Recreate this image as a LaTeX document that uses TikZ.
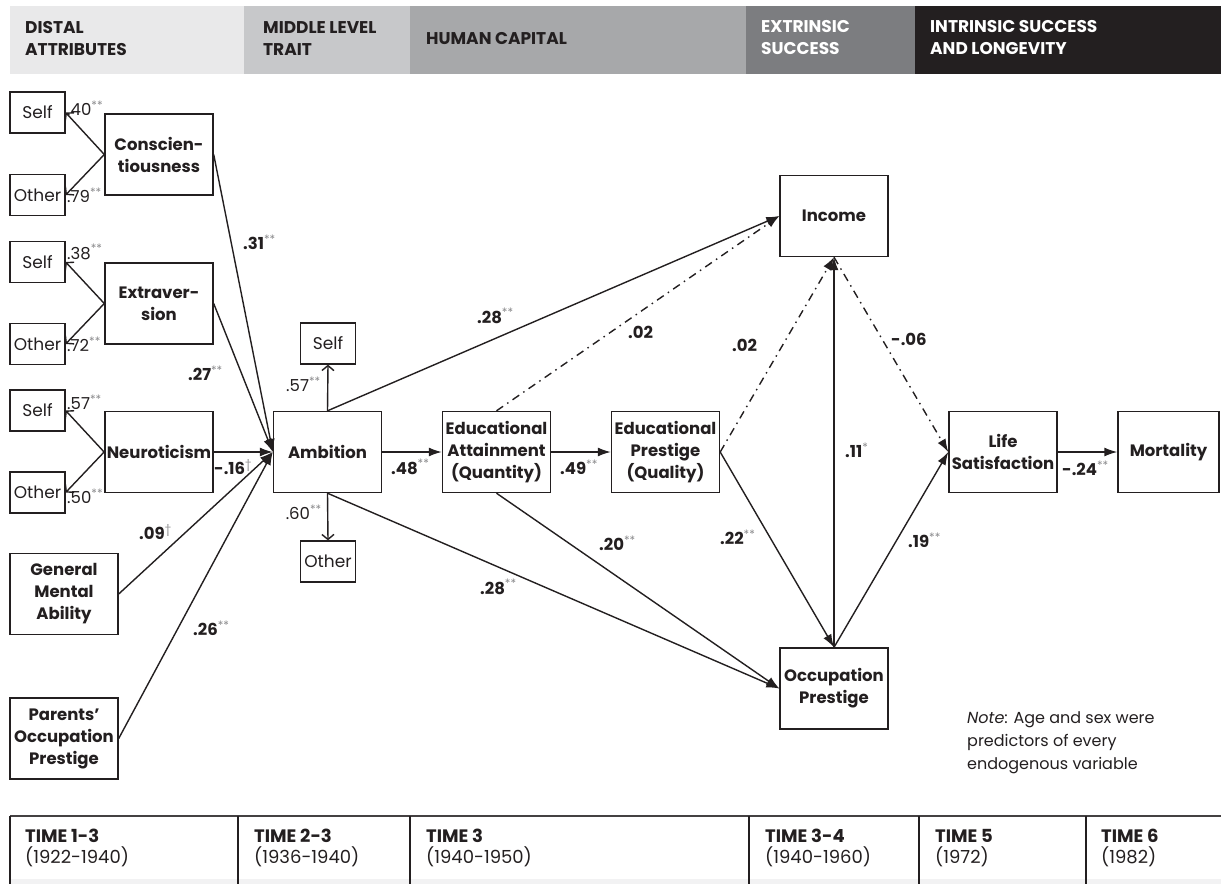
\documentclass[tikz,border=0pt]{standalone}
\usepackage{fontspec}
\setmainfont{Poppins}
\usetikzlibrary{arrows.meta}
\definecolor{ink}{HTML}{231F20}
\definecolor{bandA}{HTML}{E9E9EA}
\definecolor{bandB}{HTML}{C7C8CA}
\definecolor{bandC}{HTML}{A7A8AA}
\definecolor{bandD}{HTML}{7C7D80}
\definecolor{bandE}{HTML}{231F20}
\definecolor{sigcol}{HTML}{8A8A8C}
\newcommand\sig[1]{\textsuperscript{\mdseries\color{sigcol}#1}}
\begin{document}
\begin{tikzpicture}[x=1pt,y=-1pt,
  box/.style={draw=ink, line width=1.4pt, minimum width=108pt, minimum height=81pt,
    align=center, font=\fontsize{16.5}{22}\selectfont\bfseries, text=ink, inner sep=2pt},
  smallbox/.style={draw=ink, line width=1.3pt, minimum width=55pt, minimum height=41pt,
    inner sep=1pt, font=\fontsize{17}{20}\selectfont, text=ink},
  pth/.style={draw=ink, line width=1.4pt, -{Latex[length=13pt,width=9pt]}},
  ind/.style={draw=ink, line width=1.4pt, -{Straight Barb[length=5pt,width=12pt,line width=1.4pt]}},
  dd/.style={pth, dash pattern=on 8pt off 5pt on 1.5pt off 5pt},
  lab/.style={anchor=west, inner sep=0pt, font=\fontsize{16.5}{20}\selectfont\bfseries, text=ink},
  load/.style={anchor=west, inner sep=0pt, font=\fontsize{16.5}{18}\selectfont, text=ink},
  head/.style={anchor=north west, inner sep=0pt, align=left, font=\fontsize{17}{22}\selectfont\bfseries},
  timetxt/.style={anchor=north west, inner sep=0pt, align=left, font=\fontsize{18}{21}\selectfont, text=ink}
]
\fill[white] (0,0) rectangle (1221,884);
\useasboundingbox (0,0) rectangle (1221,884);

% header band
\fill[bandA] (10,6) rectangle (244,74);
\fill[bandB] (244,6) rectangle (410,74);
\fill[bandC] (410,6) rectangle (746,74);
\fill[bandD] (746,6) rectangle (915,74);
\fill[bandE] (915,6) rectangle (1221,74);
\node[head, text=ink] (hA) at (25,21) {DISTAL\\ATTRIBUTES};
\node[head, text=ink] (hB) at (263,21) {MIDDLE LEVEL\\TRAIT};
\node[head, text=ink] (hC) at (426,32) {HUMAN CAPITAL};
\node[head, text=white] (hD) at (761,20) {EXTRINSIC\\SUCCESS};
\node[head, text=white] (hE) at (930,20) {INTRINSIC SUCCESS\\AND LONGEVITY};

% indicator boxes
\node[smallbox] (s1) at (37.5,112.5) {Self};
\node[smallbox] (o1) at (37.5,195) {Other};
\node[smallbox] (s2) at (37.5,262) {Self};
\node[smallbox] (o2) at (37.5,344) {Other};
\node[smallbox] (s3) at (37.5,410.5) {Self};
\node[smallbox] (o3) at (37.5,492.5) {Other};
\node[smallbox] (as) at (328,343.5) {Self};
\node[smallbox] (ao) at (328,561.5) {Other};

% main boxes
\node[box] (consc) at (159,154.5) {Conscien-\\tiousness};
\node[box] (extra) at (159,303.5) {Extraver-\\sion};
\node[box] (neuro) at (159,452) {Neuroticism};
\node[box] (gma) at (64,594) {General\\Mental\\Ability};
\node[box] (par) at (64,738.5) {Parents’\\Occupation\\Prestige};
\node[box] (amb) at (327.5,452) {Ambition};
\node[box] (edq) at (496.5,452) {Educational\\Attainment\\(Quantity)};
\node[box] (edp) at (665.5,452) {Educational\\Prestige\\(Quality)};
\node[box] (inc) at (834,216) {Income};
\node[box] (occ) at (834,688.5) {Occupation\\Prestige};
\node[box] (life) at (1003,452) {Life\\Satisfaction};
\node[box, minimum width=101pt] (mort) at (1168.5,452) {Mortality};

% indicator arrows
\draw[ind] (consc.west) -- (s1.east);
\draw[ind] (consc.west) -- (o1.east);
\draw[ind] (extra.west) -- (s2.east);
\draw[ind] (extra.west) -- (o2.east);
\draw[ind] (neuro.west) -- (s3.east);
\draw[ind] (neuro.west) -- (o3.east);
\draw[ind] (amb.north) -- (as.south);
\draw[ind] (amb.south) -- (ao.north);

% structural paths
\draw[pth] (consc.east) -- (amb.west);
\draw[pth] (extra.east) -- (amb.west);
\draw[pth] (neuro.east) -- (amb.west);
\draw[pth] (gma.east) -- (amb.west);
\draw[pth] (par.east) -- (amb.west);
\draw[pth] (amb.east) -- (edq.west);
\draw[pth] (edq.east) -- (edp.west);
\draw[pth] (amb.north) -- (inc.west);
\draw[dd] (edq.north) -- (inc.west);
\draw[pth] (amb.south) -- (occ.west);
\draw[pth] (edq.south) -- (occ.west);
\draw[dd] (edp.east) -- (inc.south);
\draw[pth] (edp.east) -- (occ.north);
\draw[pth] (occ.north) -- (inc.south);
\draw[dd] (inc.south) -- (life.west);
\draw[pth] (occ.north) -- (life.west);
\draw[pth] (life.east) -- (mort.west);

% loadings
\node[load] (l1) at (67,108) {.40\sig{**}};
\node[load] (l2) at (67,195) {.79\sig{**}};
\node[load] (l3) at (67,252) {.38\sig{**}};
\node[load] (l4) at (67,344) {.72\sig{**}};
\node[load] (l5) at (67,402) {.57\sig{**}};
\node[load] (l6) at (67,496) {.50\sig{**}};
\node[load, anchor=east] (l7) at (321,384) {.57\sig{**}};
\node[load, anchor=east] (l8) at (322,512) {.60\sig{**}};

% path coefficients
\node[lab] (c1) at (243,242) {.31\sig{**}};
\node[lab] (c2) at (188,373) {.27\sig{**}};
\node[lab] (c3) at (214,467) {-.16\sig{\textdagger}};
\node[lab] (c4) at (139,532) {.09\sig{\textdagger}};
\node[lab] (c5) at (193,628) {.26\sig{**}};
\node[lab] (c6) at (477,316) {.28\sig{**}};
\node[lab] (c7) at (628,332) {.02};
\node[lab] (c8) at (391,467) {.48\sig{**}};
\node[lab] (c9) at (560,467) {.49\sig{**}};
\node[lab] (c10) at (480,587) {.28\sig{**}};
\node[lab] (c11) at (599,543) {.20\sig{**}};
\node[lab] (c12) at (732,345) {.02};
\node[lab] (c13) at (891,339) {-.06};
\node[lab] (c14) at (845,450) {.11\sig{*}};
\node[lab] (c15) at (720,537) {.22\sig{**}};
\node[lab] (c16) at (908,540) {.19\sig{**}};
\node[lab] (c17) at (1062,468) {-.24\sig{**}};

% note
\node[anchor=north west, inner sep=0pt, align=left, text=ink,
  font=\fontsize{16}{23}\selectfont] (note) at (967,711)
  {\textit{Note}: Age and sex were\\predictors of every\\endogenous variable};

% time band
\fill[bandA!60] (10,879) rectangle (1221,884);
\draw[ink!85, line width=2pt] (10,816) -- (1221,816);
\foreach \xx in {10,238,410,749,919,1086}
  \draw[ink, line width=1.3pt] (\xx,816) -- (\xx,884);
\node[timetxt] (t1) at (25,829) {\textbf{TIME 1-3}\\(1922-1940)};
\node[timetxt] (t2) at (254,829) {\textbf{TIME 2-3}\\(1936-1940)};
\node[timetxt] (t3) at (426,829) {\textbf{TIME 3}\\(1940-1950)};
\node[timetxt] (t4) at (765,829) {\textbf{TIME 3-4}\\(1940-1960)};
\node[timetxt] (t5) at (935,829) {\textbf{TIME 5}\\(1972)};
\node[timetxt] (t6) at (1101,829) {\textbf{TIME 6}\\(1982)};
\end{tikzpicture}
\end{document}
